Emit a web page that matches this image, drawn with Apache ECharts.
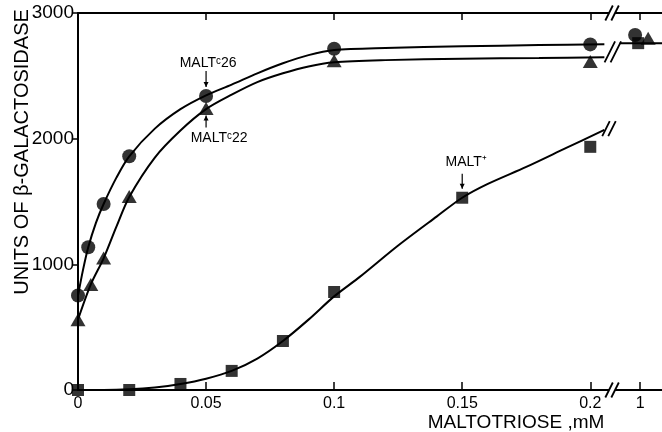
<!DOCTYPE html>
<html>
<head>
<meta charset="utf-8">
<script src="https://cdn.jsdelivr.net/npm/echarts@6/dist/echarts.min.js"></script>
<style>
  html, body { margin: 0; padding: 0; background: #fff; }
  #chart { width: 662px; height: 432px; }
</style>
</head>
<body>
<div id="chart"></div>
<script>
// where "1 mM" sits on the broken x axis (past the // break)
const X_ONE = 0.2195;

const tickPos = [0, 0.05, 0.1, 0.15, 0.2, X_ONE];
const tickText = ['0', '0.05', '0.1', '0.15', '0.2', '1'];

// MALTc26 (circles)
const circleX = [0, 0.004, 0.01, 0.02, 0.05, 0.1, 0.2, 0.2175];
const circleY = [752, 1136, 1480, 1860, 2340, 2715, 2750, 2825];
// MALTc22 (triangles)
const triX = [0, 0.005, 0.01, 0.02, 0.05, 0.1, 0.2, 0.2226];
const triY = [560, 840, 1050, 1540, 2240, 2620, 2615, 2800];
// MALT+ (squares)
const sqX = [0, 0.02, 0.04, 0.06, 0.08, 0.1, 0.15, 0.2, 0.2187];
const sqY = [0, 0, 48, 152, 390, 780, 1530, 1935, 2760];

// fitted curves as drawn in the figure
const circleCurveX = [0, 0.002, 0.004, 0.007, 0.01, 0.015, 0.02, 0.03, 0.04, 0.05, 0.06, 0.07, 0.08, 0.09, 0.1, 0.12, 0.15, 0.18, 0.2055];
const circleCurveY = [752, 960, 1136, 1330, 1480, 1690, 1860, 2080, 2235, 2345, 2430, 2520, 2600, 2665, 2705, 2722, 2735, 2745, 2752];
const triCurveX = [0, 0.005, 0.01, 0.015, 0.02, 0.03, 0.04, 0.05, 0.06, 0.07, 0.08, 0.09, 0.1, 0.12, 0.15, 0.18, 0.2055];
const triCurveY = [560, 840, 1048, 1300, 1536, 1850, 2065, 2235, 2350, 2450, 2520, 2575, 2608, 2625, 2636, 2642, 2648];
const sqCurveX = [0, 0.01, 0.02, 0.03, 0.04, 0.05, 0.06, 0.07, 0.08, 0.09, 0.1, 0.11, 0.125, 0.14, 0.15, 0.16, 0.175, 0.19, 0.2055];
const sqCurveY = [0, 0, 5, 20, 48, 90, 152, 250, 390, 560, 745, 900, 1150, 1380, 1530, 1640, 1775, 1920, 2070];
const tailX = [0.2115, 0.228];
const tailY = [2760, 2760];

const FONT = "'Liberation Sans', Arial, sans-serif";
const pairs = (xs, ys) => xs.map((x, i) => [x, ys[i]]);

const chart = echarts.init(document.getElementById('chart'));

const tickFormatter = (v) => {
  let best = 0;
  for (let i = 0; i < tickPos.length; i++) {
    if (Math.abs(tickPos[i] - v) < Math.abs(tickPos[best] - v)) best = i;
  }
  return tickText[best];
};

const curve = (data) => ({
  type: 'line', data: data, smooth: 0.3,
  symbol: 'none', lineStyle: {color: '#000', width: 2}, z: 2, silent: true
});
const marks = (data, symbol, size) => ({
  type: 'scatter', data: data, symbol: symbol, symbolSize: size,
  itemStyle: {color: '#000'}, z: 5, silent: true
});

chart.setOption({
  animation: false,
  backgroundColor: '#fff',
  grid: {left: 78, right: 0, top: 13, bottom: 42},
  xAxis: [{
    type: 'value', min: 0, max: 0.228, position: 'bottom',
    axisLine: {lineStyle: {color: '#000', width: 2}},
    axisTick: {inside: true, length: 8, lineStyle: {color: '#000', width: 1.5},
      customValues: tickPos.slice(1)},
    axisLabel: {color: '#000', fontFamily: FONT, fontSize: 16, margin: 6,
      customValues: tickPos, formatter: tickFormatter},
    splitLine: {show: false}
  }, {
    type: 'value', min: 0, max: 0.228, position: 'top',
    axisLine: {lineStyle: {color: '#000', width: 2}},
    axisTick: {inside: true, length: 7, lineStyle: {color: '#000', width: 1.5},
      customValues: tickPos.slice(1)},
    axisLabel: {show: false},
    splitLine: {show: false}
  }],
  yAxis: {
    type: 'value', min: 0, max: 3000, interval: 1000,
    axisLine: {show: true, lineStyle: {color: '#000', width: 2}},
    axisTick: {show: true, length: 5, lineStyle: {color: '#000', width: 1.5}},
    axisLabel: {color: '#000', fontFamily: "'Liberation Sans Narrow', " + FONT,
      fontSize: 19, margin: 4, formatter: (v) => String(v)},
    splitLine: {show: false}
  },
  series: [
    curve(pairs(circleCurveX, circleCurveY)),
    curve(pairs(triCurveX, triCurveY)),
    curve(pairs(sqCurveX, sqCurveY)),
    curve(pairs(tailX, tailY)),
    marks(pairs(circleX, circleY), 'circle', 14),
    marks(pairs(triX, triY), 'triangle', [15, 13]),
    marks(pairs(sqX, sqY), 'rect', 12)
  ]
});

// decorations: break marks, labels with arrows, axis titles
const px = (x, y) => chart.convertToPixel({gridIndex: 0}, [x, y]);

function breakMark(x, y, h, blank) {
  const p = px(x, y);
  const els = [];
  if (blank) {
    els.push({type: 'rect', shape: {x: p[0] - 3, y: p[1] - 3, width: 6, height: 6},
      style: {fill: '#fff'}, z: 20});
  }
  [-3, 3].forEach((d) => {
    els.push({type: 'line', z: 21,
      shape: {x1: p[0] + d - h * 0.25, y1: p[1] + h / 2, x2: p[0] + d + h * 0.25, y2: p[1] - h / 2},
      style: {stroke: '#000', lineWidth: 1.8}});
  });
  return els;
}

function arrowLabel(x, y, text, dx, dy, a0, a1) {
  const p = px(x, y);
  const dir = a1 > a0 ? 1 : -1;
  const tipY = p[1] + a1;
  return [
    {type: 'text', z: 22, style: {text: text, x: p[0] + dx, y: p[1] + dy,
      align: 'center', verticalAlign: 'middle', fill: '#000',
      font: '14px ' + FONT}},
    {type: 'line', z: 22, shape: {x1: p[0], y1: p[1] + a0, x2: p[0], y2: tipY},
      style: {stroke: '#000', lineWidth: 1.2}},
    {type: 'polygon', z: 22, shape: {points: [[p[0] - 2.5, tipY - dir * 5], [p[0] + 2.5, tipY - dir * 5], [p[0], tipY]]},
      style: {fill: '#000'}}
  ];
}

let g = [];
g = g.concat(breakMark(0.2085, 0, 15, true));
g = g.concat(breakMark(0.2085, 3000, 15, true));
g = g.concat(breakMark(0.2088, 2690, 21, false));
g = g.concat(breakMark(0.2073, 2080, 15, false));
g = g.concat(arrowLabel(0.05, 2340, 'MALTᶜ26', 2, -33, -25, -9));
g = g.concat(arrowLabel(0.05, 2240, 'MALTᶜ22', 13, 30, 19, 7));
g = g.concat(arrowLabel(0.15, 1530, 'MALT⁺', 4, -36, -24, -9));
g.push({type: 'text', z: 22, style: {text: 'MALTOTRIOSE ,mM', x: 516, y: 423,
  align: 'center', verticalAlign: 'middle', fill: '#000', font: '19px ' + FONT}});
g.push({type: 'text', z: 22, x: 22, y: 152, rotation: Math.PI / 2,
  style: {text: 'UNITS OF β-GALACTOSIDASE', x: 0, y: 0, align: 'center',
    verticalAlign: 'middle', fill: '#000', font: '20px ' + FONT}});

chart.setOption({graphic: g});
</script>
</body>
</html>
